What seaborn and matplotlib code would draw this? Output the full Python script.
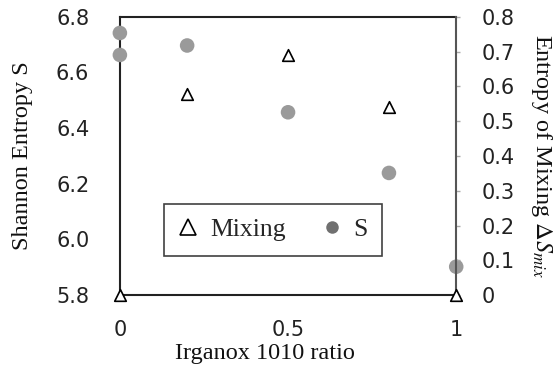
import matplotlib
matplotlib.use("Agg")
import matplotlib.pyplot as plt
import seaborn as sns
import pandas as pd
from matplotlib.lines import Line2D
from matplotlib.ticker import FixedLocator, FixedFormatter

sns.set_theme(style="white")
plt.rcParams['font.family'] = ['DejaVu Sans']
plt.rcParams['mathtext.fontset'] = 'stix'

# Data
ratio_s = [0, 0, 0.2, 0.5, 0.8, 1.0]
shannon_s = [6.742, 6.663, 6.697, 6.457, 6.239, 5.902]
ratio_mix = [0, 0.2, 0.5, 0.8, 1.0]
mixing = [0.0, 0.578, 0.689, 0.540, 0.0]

x_ticks = [0, 0.5, 1]
x_labels = ["0", "0.5", "1"]
left_ticks = [5.8, 6.0, 6.2, 6.4, 6.6, 6.8]
left_labels = ["5.8", "6.0", "6.2", "6.4", "6.6", "6.8"]
right_ticks = [0, 0.1, 0.2, 0.3, 0.4, 0.5, 0.6, 0.7, 0.8]
right_labels = ["0", "0.1", "0.2", "0.3", "0.4", "0.5", "0.6", "0.7", "0.8"]

df_s = pd.DataFrame({"ratio": ratio_s, "S": shannon_s})
df_m = pd.DataFrame({"ratio": ratio_mix, "Mixing": mixing})

fig = plt.figure(figsize=(5.55, 3.74), dpi=100)
ax = fig.add_axes([0.216, 0.211, 0.606, 0.744])
ax2 = ax.twinx()

sns.scatterplot(data=df_s, x="ratio", y="S", ax=ax, color="#9a9a9a", s=110,
                edgecolor="none", marker="o", clip_on=False, zorder=3)
sns.scatterplot(data=df_m, x="ratio", y="Mixing", ax=ax2, color="white", s=70,
                edgecolor="black", linewidth=1.2, marker="^", clip_on=False, zorder=4)

ax.set_xlim(0, 1)
ax.set_ylim(5.8, 6.8)
ax2.set_ylim(0, 0.8)

ax.xaxis.set_major_locator(FixedLocator(x_ticks))
ax.xaxis.set_major_formatter(FixedFormatter(x_labels))
ax.yaxis.set_major_locator(FixedLocator(left_ticks))
ax.yaxis.set_major_formatter(FixedFormatter(left_labels))
ax2.yaxis.set_major_locator(FixedLocator(right_ticks))
ax2.yaxis.set_major_formatter(FixedFormatter(right_labels))

ax.tick_params(axis="x", length=0, pad=18, labelsize=15, colors="#222222")
ax.tick_params(axis="y", length=0, pad=22, labelsize=15, colors="#222222")
ax2.tick_params(axis="y", length=3, width=1, color="#aaaaaa", pad=15, labelsize=15,
                labelcolor="#222222", direction="out")

for side in ["left", "top", "bottom"]:
    ax.spines[side].set_color("#222222")
    ax.spines[side].set_linewidth(1.5)
ax.spines["right"].set_visible(False)
for side in ["left", "top", "bottom"]:
    ax2.spines[side].set_visible(False)
ax2.spines["right"].set_color("#555555")
ax2.spines["right"].set_linewidth(1.5)

serif = ["Liberation Serif", "DejaVu Serif"]
ax.set_xlabel("Irganox 1010 ratio", family=serif, fontsize=17.5, color="#111111")
ax.set_ylabel("Shannon Entropy S", family=serif, fontsize=17.5, color="#111111")
ax2.set_ylabel(r"Entropy of Mixing $\Delta S_{mix}$", family=serif, fontsize=17.5,
               color="#111111", rotation=270)
ax.xaxis.set_label_coords(0.432, -0.172)
ax.yaxis.set_label_coords(-0.258, 0.5)
ax2.yaxis.set_label_coords(1.29, 0.5)

handles = [
    Line2D([], [], linestyle="none", marker="^", markersize=11, markerfacecolor="white",
           markeredgecolor="black", markeredgewidth=1.2),
    Line2D([], [], linestyle="none", marker="o", markersize=9, markerfacecolor="#707070",
           markeredgecolor="none"),
]
leg = ax2.legend(handles, ["Mixing", "S"], loc="center", bbox_to_anchor=(0.455, 0.234),
                 ncol=2, frameon=True, fancybox=False, prop={"family": serif, "size": 18.5},
                 handletextpad=0.45, columnspacing=1.4, borderpad=0.55, handlelength=0.8)
leg.get_frame().set_edgecolor("#111111")
leg.get_frame().set_linewidth(1.2)

fig.savefig("out.png", dpi=100)
